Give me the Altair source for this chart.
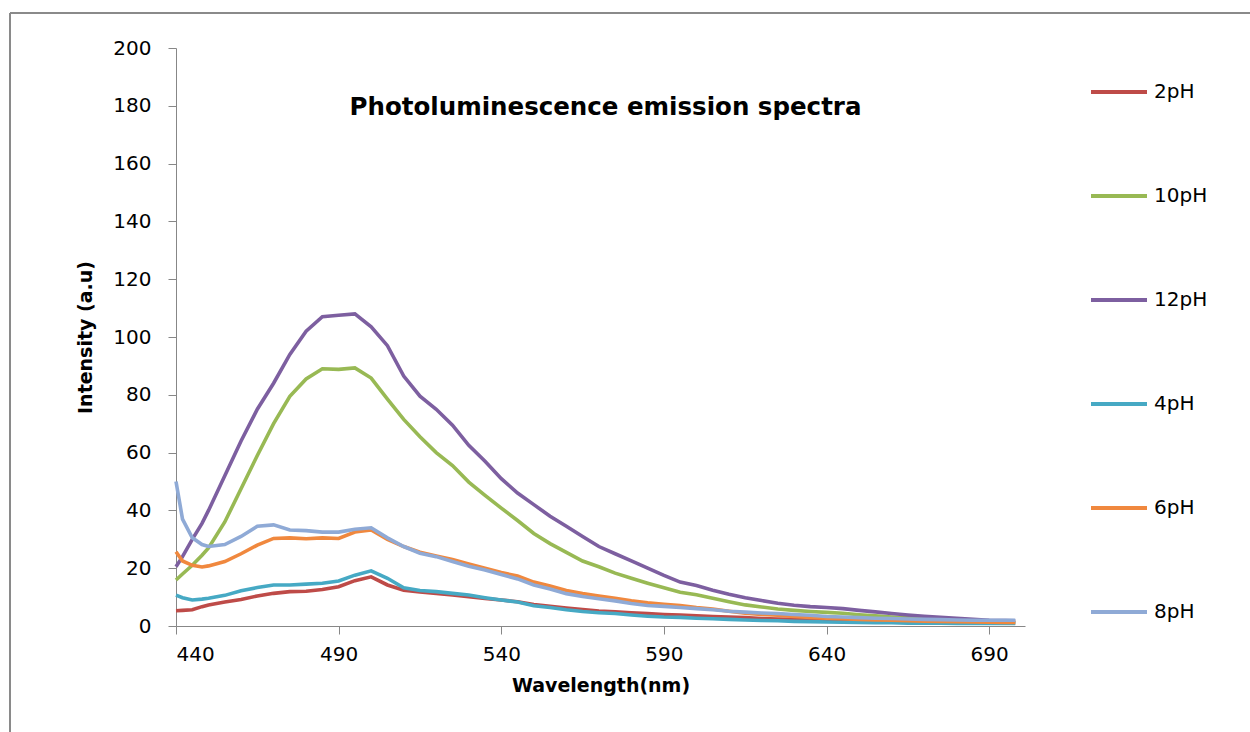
import altair as alt
import pandas as pd

wavelength = [440, 442, 445, 448, 450, 455, 460, 465, 470, 475, 480, 485, 490, 495, 500,
              505, 510, 515, 520, 525, 530, 535, 540, 545, 550, 555, 560, 565, 570, 575,
              580, 585, 590, 595, 600, 605, 610, 615, 620, 625, 630, 635, 640, 645, 650,
              655, 660, 665, 670, 675, 680, 685, 690, 695, 698]

ph2 = [5.3, 5.4, 5.6, 6.7, 7.3, 8.3, 9.2, 10.4, 11.3, 11.9, 12.0, 12.6, 13.6, 15.7, 17.0,
       14.2, 12.4, 11.8, 11.3, 10.7, 10.1, 9.5, 9.0, 8.4, 7.4, 6.8, 6.2, 5.7, 5.2, 4.9,
       4.6, 4.3, 4.0, 3.8, 3.5, 3.3, 3.1, 2.9, 2.6, 2.4, 2.3, 2.1, 2.0, 1.9, 1.8,
       1.7, 1.6, 1.5, 1.4, 1.3, 1.3, 1.2, 1.1, 1.1, 1.0]

ph10 = [15.9, 18.0, 21.0, 24.5, 27.0, 36.0, 47.5, 59.0, 70.0, 79.5, 85.5, 89.0, 88.8, 89.3, 85.8,
        78.5, 71.5, 65.5, 60.0, 55.5, 49.8, 45.2, 40.8, 36.5, 32.0, 28.5, 25.5, 22.5, 20.5, 18.3,
        16.5, 14.8, 13.2, 11.7, 10.8, 9.6, 8.4, 7.3, 6.6, 5.9, 5.4, 5.0, 4.7, 4.4, 3.9,
        3.5, 3.1, 2.8, 2.5, 2.2, 2.0, 1.8, 1.6, 1.5, 1.4]

ph12 = [20.5, 24.0, 30.0, 35.5, 40.0, 52.0, 64.0, 75.0, 84.0, 94.0, 102.0, 107.0, 107.5, 108.0, 103.5,
        97.0, 86.5, 79.5, 75.0, 69.5, 62.5, 57.0, 51.0, 46.0, 42.0, 38.0, 34.5, 31.0, 27.5, 25.0,
        22.5, 20.0, 17.5, 15.2, 14.0, 12.4, 11.0, 9.8, 8.8, 7.9, 7.2, 6.7, 6.4, 6.0, 5.4,
        4.9, 4.3, 3.8, 3.4, 3.0, 2.7, 2.3, 2.0, 1.9, 1.8]

ph4 = [10.7, 9.8, 9.0, 9.3, 9.6, 10.6, 12.2, 13.3, 14.2, 14.2, 14.5, 14.8, 15.6, 17.6, 19.1,
       16.5, 13.2, 12.3, 11.9, 11.3, 10.7, 9.8, 9.0, 8.3, 7.0, 6.4, 5.6, 5.0, 4.6, 4.3,
       3.8, 3.4, 3.1, 3.0, 2.7, 2.5, 2.3, 2.1, 1.9, 1.8, 1.6, 1.5, 1.4, 1.3, 1.2,
       1.1, 1.1, 1.0, 1.0, 1.0, 0.9, 0.9, 0.9, 0.9, 0.9]

ph6 = [25.7, 22.5, 21.0, 20.4, 20.8, 22.3, 25.0, 28.0, 30.3, 30.5, 30.2, 30.5, 30.3, 32.5, 33.2,
       30.0, 27.5, 25.5, 24.2, 23.0, 21.5, 20.0, 18.5, 17.3, 15.2, 13.8, 12.3, 11.2, 10.4, 9.6,
       8.7, 8.0, 7.5, 7.1, 6.4, 5.9, 5.1, 4.4, 4.0, 3.7, 3.3, 3.0, 2.7, 2.5, 2.3,
       2.1, 2.0, 1.8, 1.7, 1.6, 1.5, 1.4, 1.3, 1.2, 1.2]

ph8 = [50.0, 37.0, 30.5, 28.2, 27.5, 28.2, 31.0, 34.5, 35.0, 33.2, 33.0, 32.5, 32.5, 33.5, 34.0,
       30.5, 27.5, 25.2, 24.0, 22.3, 20.7, 19.4, 17.8, 16.3, 14.2, 12.8, 11.2, 10.2, 9.4, 8.7,
       7.8, 7.1, 6.8, 6.4, 6.0, 5.6, 5.1, 4.8, 4.5, 4.3, 4.0, 3.7, 3.3, 3.1, 2.9,
       2.7, 2.6, 2.4, 2.3, 2.2, 2.1, 2.0, 2.0, 2.0, 2.0]

series_names = ["2pH", "10pH", "12pH", "4pH", "6pH", "8pH"]
series_values = [ph2, ph10, ph12, ph4, ph6, ph8]
series_colors = ["#BE4B48", "#98B954", "#7D5FA0", "#46A9C4", "#F0883E", "#8FAAD6"]
x_ticks = [440, 490, 540, 590, 640, 690]
y_ticks = list(range(0, 201, 20))

rows = []
for name, vals in zip(series_names, series_values):
    for w, v in zip(wavelength, vals):
        rows.append({"Wavelength": w, "Intensity": v, "Series": name})
df = pd.DataFrame(rows)

FONT = "DejaVu Sans"

lines = alt.Chart(df).mark_line(strokeWidth=3.6, interpolate="linear").encode(
    x=alt.X("Wavelength:Q",
            scale=alt.Scale(domain=[440, 701], nice=False, zero=False),
            axis=alt.Axis(values=x_ticks, title="Wavelength(nm)", grid=False,
                          tickSize=8, labelPadding=10, titlePadding=12,
                          labelFontSize=20, titleFontSize=19, titleFontWeight="bold",
                          domainColor="#878787", tickColor="#878787",
                          labelColor="#000000", titleColor="#000000")),
    y=alt.Y("Intensity:Q",
            scale=alt.Scale(domain=[0, 200], nice=False),
            axis=alt.Axis(values=y_ticks, title="Intensity (a.u)", grid=False,
                          tickSize=8, labelPadding=17, titlePadding=17,
                          labelFontSize=20, titleFontSize=19, titleFontWeight="bold",
                          domainColor="#878787", tickColor="#878787",
                          labelColor="#000000", titleColor="#000000")),
    color=alt.Color("Series:N",
                    scale=alt.Scale(domain=series_names, range=series_colors),
                    sort=series_names,
                    legend=alt.Legend(title=None, orient="none", legendX=913, legendY=14,
                                      symbolType="stroke", symbolSize=3136,
                                      symbolStrokeWidth=4, labelFontSize=20,
                                      labelColor="#000000", rowPadding=64,
                                      labelOffset=5)),
    detail="Series:N",
)

frame_left = alt.Chart(df).mark_rule(color="#8a8a8a", strokeWidth=1.5).encode(
    x=alt.value(-166), y=alt.value(-35), y2=alt.value(720))
frame_top = alt.Chart(df).mark_rule(color="#8a8a8a", strokeWidth=1.5).encode(
    x=alt.value(-166), x2=alt.value(1100), y=alt.value(-35))

chart = alt.layer(frame_left, frame_top, lines).properties(
    width=849, height=578,
    title=alt.TitleParams("Photoluminescence emission spectra", fontSize=24.5,
                          fontWeight="bold", font=FONT, color="#000000",
                          anchor="middle", dy=112, dx=5),
    autosize=alt.AutoSizeParams(type="none"),
    padding={"left": 176, "top": 48, "right": 225, "bottom": 106},
).configure(font=FONT).configure_view(stroke=None).configure_axis(
    labelFont=FONT, titleFont=FONT).configure_legend(labelFont=FONT)

chart.save("out.html", embed_options={"renderer": "svg", "actions": False})
